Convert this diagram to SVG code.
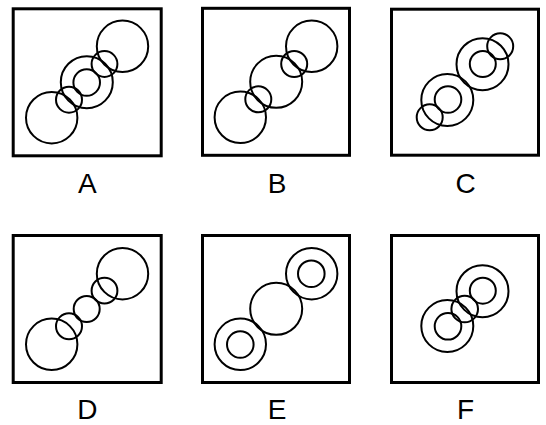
<svg xmlns="http://www.w3.org/2000/svg" width="546" height="425" viewBox="0 0 546 425">
<style>
.box{fill:none;stroke:#000;stroke-width:3}
.c{fill:none;stroke:#000;stroke-width:2}
.lbl{font-family:"Liberation Sans",Arial,sans-serif;font-size:28px;text-anchor:middle;fill:#000}
</style>
<rect width="546" height="425" fill="#fff"/>
<g id="panelA">
<rect class="box" x="13.2" y="8.8" width="148" height="147"/>
<circle class="c" cx="51.7" cy="117.7" r="25.7"/>
<circle class="c" cx="69" cy="99.7" r="13"/>
<circle class="c" cx="86.8" cy="82.2" r="26"/>
<circle class="c" cx="86.7" cy="82.5" r="13.3"/>
<circle class="c" cx="104.5" cy="64" r="12.9"/>
<circle class="c" cx="122.5" cy="46.3" r="25.7"/>
<text class="lbl" x="87.3" y="192.5">A</text>
</g>
<g id="panelB">
<rect class="box" x="202.5" y="8.3" width="147" height="147"/>
<circle class="c" cx="240.3" cy="117.3" r="25.7"/>
<circle class="c" cx="258.3" cy="99.3" r="13"/>
<circle class="c" cx="276.2" cy="81.8" r="26"/>
<circle class="c" cx="294.2" cy="64" r="13"/>
<circle class="c" cx="311.7" cy="46.3" r="25.7"/>
<text class="lbl" x="277" y="192.5">B</text>
</g>
<g id="panelC">
<rect class="box" x="391.5" y="9.2" width="147" height="146"/>
<circle class="c" cx="447.3" cy="100" r="26"/>
<circle class="c" cx="448" cy="99.5" r="13.3"/>
<circle class="c" cx="429.7" cy="117.3" r="13"/>
<circle class="c" cx="482.5" cy="64.2" r="26"/>
<circle class="c" cx="482.8" cy="64" r="13"/>
<circle class="c" cx="500.2" cy="46.3" r="13"/>
<text class="lbl" x="465.5" y="192.5">C</text>
</g>
<g id="panelD">
<rect class="box" x="13.2" y="235.5" width="148" height="147"/>
<circle class="c" cx="51.7" cy="344.3" r="25.7"/>
<circle class="c" cx="69" cy="326.3" r="13"/>
<circle class="c" cx="86.7" cy="309" r="13"/>
<circle class="c" cx="104.5" cy="290.7" r="12.9"/>
<circle class="c" cx="122.5" cy="273.7" r="25.7"/>
<text class="lbl" x="87.3" y="419">D</text>
</g>
<g id="panelE">
<rect class="box" x="202.5" y="235.5" width="147" height="147"/>
<circle class="c" cx="240.3" cy="344.3" r="25.7"/>
<circle class="c" cx="240.3" cy="344.5" r="13.3"/>
<circle class="c" cx="276.2" cy="308.8" r="26"/>
<circle class="c" cx="311.7" cy="273.7" r="25.7"/>
<circle class="c" cx="311.3" cy="273.7" r="13.3"/>
<text class="lbl" x="277" y="419">E</text>
</g>
<g id="panelF">
<rect class="box" x="391.5" y="235.5" width="147" height="147"/>
<circle class="c" cx="447.3" cy="326" r="26"/>
<circle class="c" cx="448" cy="326.3" r="13.3"/>
<circle class="c" cx="464.7" cy="309" r="13.3"/>
<circle class="c" cx="482.5" cy="291.2" r="26"/>
<circle class="c" cx="482.8" cy="290.7" r="13"/>
<text class="lbl" x="465.5" y="419">F</text>
</g>
<g id="connectors"></g>
</svg>
